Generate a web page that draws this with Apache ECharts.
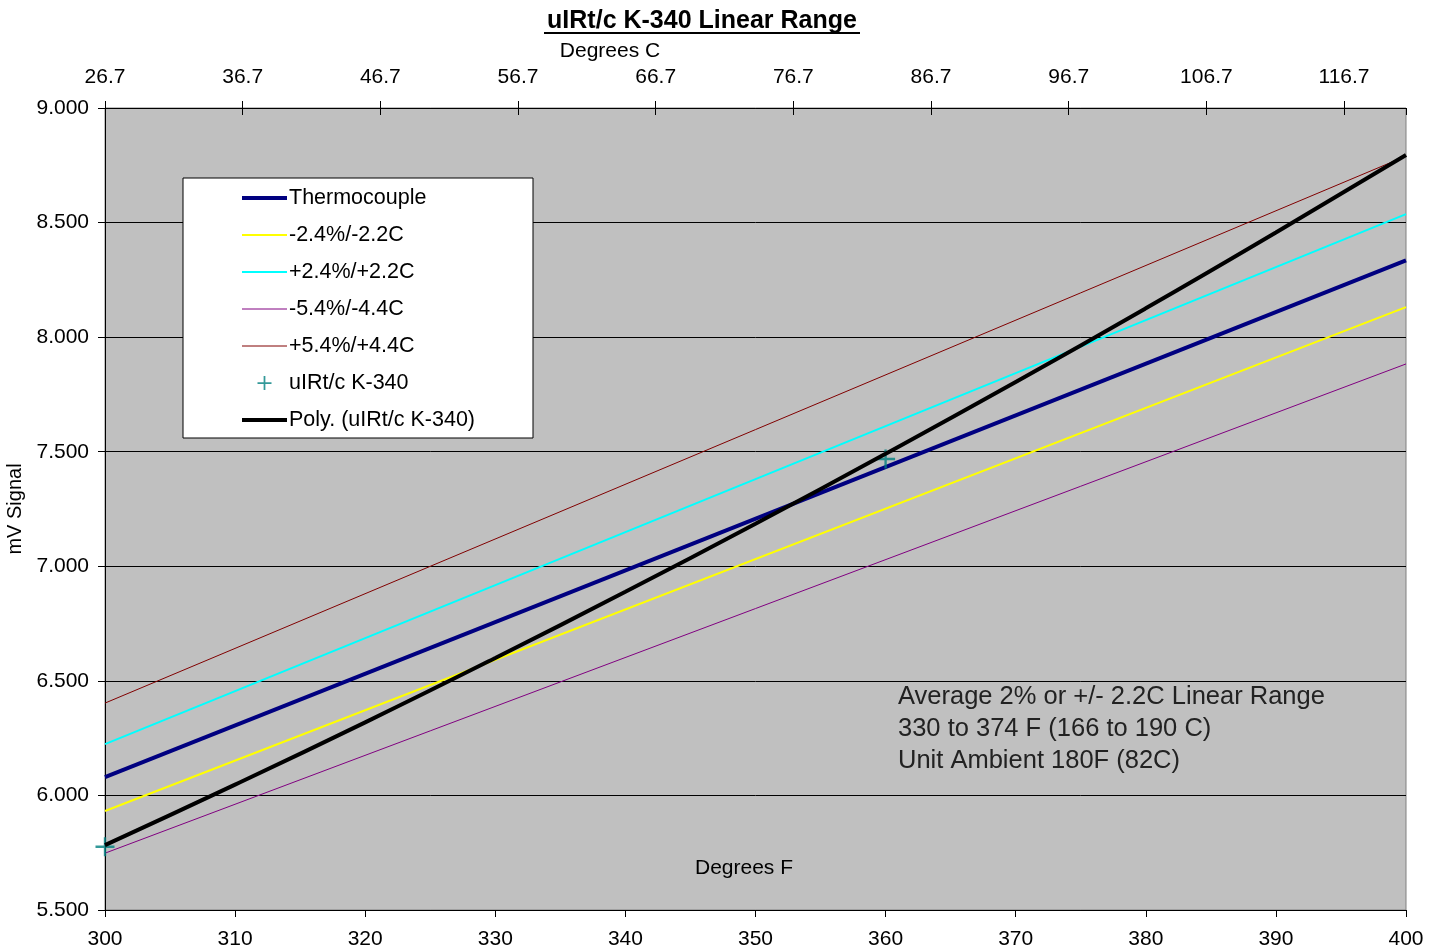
<!DOCTYPE html>
<html>
<head>
<meta charset="utf-8">
<script src="https://cdn.jsdelivr.net/npm/echarts@6/dist/echarts.min.js"></script>
<style>html,body{margin:0;padding:0;background:#fff}#c{width:1440px;height:951px}</style>
</head>
<body>
<div id="c"></div>
<script>
// ---- data ----
const fahrenheitEnds = [300, 400];
const thermocouple = [6.080, 8.335];
const minus24 = [5.932, 8.131];
const plus24 = [6.224, 8.537];
const minus54 = [5.748, 7.883];
const plus54 = [6.403, 8.790];
const k340F = [300, 360];
const k340mV = [5.776, 7.468];
const polyF = [300, 310, 320, 330, 340, 350, 360, 370, 380, 390, 400];
const polyMV = [5.783, 6.047, 6.319, 6.600, 6.889, 7.186, 7.491, 7.804, 8.126, 8.457, 8.795];
const celsiusTickLabels = ['26.7', '36.7', '46.7', '56.7', '66.7', '76.7', '86.7', '96.7', '106.7', '116.7'];
const yTickLabels = ['5.500', '6.000', '6.500', '7.000', '7.500', '8.000', '8.500', '9.000'];
const annotation = ['Average 2% or +/- 2.2C Linear Range', '330 to 374 F (166 to 190 C)', 'Unit Ambient 180F (82C)'];

const FONT = 'Liberation Sans, Arial, sans-serif';
const pair = (xs, ys) => xs.map((x, i) => [x, ys[i]]);
const plusPath = 'path://M7,0H9V16H7Z M0,7H16V9H0Z';

const chart = echarts.init(document.getElementById('c'), null, { renderer: 'canvas' });
const gridBox = { left: 105, right: 34, top: 108, bottom: 41, containLabel: false, outerBoundsMode: 'none' };

const lineSeries = (name, data, color, width) => ({
  name, type: 'line', data, xAxisIndex: 0, yAxisIndex: 0,
  showSymbol: false, symbol: 'none', silent: true,
  lineStyle: { color, width }, itemStyle: { color },
  emphasis: { disabled: true }
});
const lineLegend = (name, width) => ({ name, itemStyle: { opacity: 0 }, lineStyle: { width } });

chart.setOption({
  animation: false,
  grid: [
    Object.assign({ show: true, backgroundColor: '#C0C0C0', borderColor: '#808080', borderWidth: 1 }, gridBox),
    Object.assign({ show: false }, gridBox)
  ],
  legend: {
    orient: 'vertical', left: 240, top: 187, padding: 0,
    itemWidth: 45, itemHeight: 14, itemGap: 15,
    textStyle: { fontFamily: FONT, fontSize: 21.5, color: '#000', lineHeight: 22, padding: [0, 0, 0, -3] },
    data: [
      lineLegend('Thermocouple', 4),
      lineLegend('-2.4%/-2.2C', 2),
      lineLegend('+2.4%/+2.2C', 2),
      lineLegend('-5.4%/-4.4C', 1),
      lineLegend('+5.4%/+4.4C', 1),
      { name: 'uIRt/c K-340' },
      lineLegend('Poly. (uIRt/c K-340)', 4)
    ],
    z: 5
  },
  xAxis: [
    {
      type: 'value', gridIndex: 0, position: 'bottom', min: 300, max: 400, interval: 10,
      axisLine: { show: true, onZero: false, lineStyle: { color: '#000', width: 1 } },
      axisTick: { show: true, length: 7, lineStyle: { color: '#000' } },
      axisLabel: { fontFamily: FONT, fontSize: 21, color: '#000', margin: 19 },
      splitLine: { show: false }
    },
    {
      type: 'value', gridIndex: 0, position: 'top', min: 0, max: 94.5, interval: 10,
      axisLine: { show: true, onZero: false, lineStyle: { color: '#000', width: 1 } },
      axisTick: { show: true, length: 7, lineStyle: { color: '#000' } },
      axisLabel: {
        fontFamily: FONT, fontSize: 21, color: '#000', margin: 20, showMaxLabel: false,
        formatter: (v, i) => celsiusTickLabels[i] !== undefined ? celsiusTickLabels[i] : ''
      },
      splitLine: { show: false }
    },
    {
      type: 'value', gridIndex: 1, position: 'top', min: 0, max: 94.5, interval: 10,
      axisLine: { show: false, onZero: false },
      axisTick: { show: true, inside: true, length: 7, lineStyle: { color: '#000' } },
      axisLabel: { show: false },
      splitLine: { show: false }
    }
  ],
  yAxis: [
    {
      type: 'value', gridIndex: 0, min: 5.5, max: 9, interval: 0.5,
      name: 'mV Signal', nameLocation: 'middle', nameRotate: 90, nameGap: 73,
      nameTextStyle: { fontFamily: FONT, fontSize: 20, color: '#000' },
      axisLine: { show: true, onZero: false, lineStyle: { color: '#000', width: 1 } },
      axisTick: { show: true, length: 7, lineStyle: { color: '#000' } },
      axisLabel: {
        fontFamily: FONT, fontSize: 21, color: '#000', margin: 16,
        formatter: (v, i) => yTickLabels[i]
      },
      splitLine: { show: true, lineStyle: { color: '#000', width: 1 } }
    },
    {
      type: 'value', gridIndex: 1, min: 0, max: 1, show: false
    }
  ],
  series: [
    lineSeries('Thermocouple', pair(fahrenheitEnds, thermocouple), '#000080', 4),
    lineSeries('-2.4%/-2.2C', pair(fahrenheitEnds, minus24), '#FFFF00', 2),
    lineSeries('+2.4%/+2.2C', pair(fahrenheitEnds, plus24), '#00FFFF', 2),
    lineSeries('-5.4%/-4.4C', pair(fahrenheitEnds, minus54), '#800080', 1),
    lineSeries('+5.4%/+4.4C', pair(fahrenheitEnds, plus54), '#800000', 1),
    {
      name: 'uIRt/c K-340', type: 'scatter', data: pair(k340F, k340mV),
      symbol: plusPath, symbolSize: 19, itemStyle: { color: '#008080' }, silent: true, z: 3,
      emphasis: { disabled: true }
    },
    Object.assign(lineSeries('Poly. (uIRt/c K-340)', pair(polyF, polyMV), '#000000', 4), { smooth: true, z: 4 })
  ],
  graphic: [
    { type: 'rect', z: 3, shape: { x: 183, y: 178, width: 350, height: 260 },
      style: { fill: '#fff', stroke: '#000', lineWidth: 1 } },
    { type: 'text', z: 3, x: 702, y: 21, style: { text: 'uIRt/c K-340 Linear Range', font: 'bold 25px ' + FONT, fill: '#000', textAlign: 'center', textVerticalAlign: 'middle' } },
    { type: 'line', z: 3, shape: { x1: 544, y1: 33, x2: 860, y2: 33 }, style: { stroke: '#000', lineWidth: 2 } },
    { type: 'text', z: 3, x: 610, y: 51, style: { text: 'Degrees C', font: '21px ' + FONT, fill: '#000', textAlign: 'center', textVerticalAlign: 'middle' } },
    { type: 'text', z: 3, x: 744, y: 868, style: { text: 'Degrees F', font: '21px ' + FONT, fill: '#000', textAlign: 'center', textVerticalAlign: 'middle' } },
    { type: 'text', z: 3, x: 898, y: 697, style: { text: annotation[0], font: '25.5px ' + FONT, fill: '#222', textAlign: 'left', textVerticalAlign: 'middle' } },
    { type: 'text', z: 3, x: 898, y: 729, style: { text: annotation[1], font: '25.5px ' + FONT, fill: '#222', textAlign: 'left', textVerticalAlign: 'middle' } },
    { type: 'text', z: 3, x: 898, y: 761, style: { text: annotation[2], font: '25.5px ' + FONT, fill: '#222', textAlign: 'left', textVerticalAlign: 'middle' } }
  ]
});
</script>
</body>
</html>
